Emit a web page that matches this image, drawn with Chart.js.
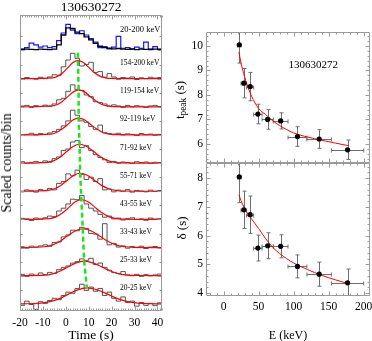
<!DOCTYPE html>
<html>
<head>
<meta charset="utf-8">
<script src="https://cdn.jsdelivr.net/npm/chart.js@4/dist/chart.umd.min.js"></script>
<style>
body { margin: 0; background: #fff; width: 372px; height: 341px; position: relative; overflow: hidden; font-family: "Liberation Serif", serif; }
canvas { position: absolute; }
.t { position: absolute; white-space: nowrap; color: #000; line-height: 1; transform: translate(-50%, -50%); }
.r { transform: translate(-50%, -50%) rotate(-90deg); }
.band { position: absolute; white-space: nowrap; color: #000; line-height: 1; font-size: 7.5px; transform: translateY(-50%); }
sub { font-size: 0.72em; vertical-align: -0.25em; }
</style>
</head>
<body>
<canvas id="lc" width="186" height="341" style="left:0;top:0"></canvas>
<canvas id="tp" width="186" height="164" style="left:186px;top:0"></canvas>
<canvas id="dl" width="186" height="178" style="left:186px;top:163px"></canvas>

<div class="t" style="left:91px;top:7px;font-size:13.5px">130630272</div>
<div class="t r" style="left:7px;top:163px;font-size:14px">Scaled counts/bin</div>
<div class="t" style="left:91px;top:335px;font-size:13.5px">Time (s)</div>
<div class="t r" style="left:181px;top:100px;font-size:13px">t<sub>peak</sub> (s)</div>
<div class="t r" style="left:181px;top:228px;font-size:13px">δ (s)</div>
<div class="t" style="left:288px;top:335px;font-size:12px">E (keV)</div>
<div id="grb" class="t" style="font-size:11px">130630272</div>

<script>
// ---- light curves (left panel) ----
const BANDS = ['20-200 keV', '154-200 keV', '119-154 keV', '92-119 keV', '71-92 keV',
  '55-71 keV', '43-55 keV', '33-43 keV', '25-33 keV', '20-25 keV'];
const OFFSETS = [9.24, 8.24, 7.24, 6.24, 5.24, 4.24, 3.24, 2.24, 1.24, 0.24];
const TIME_EDGES = [-20, -18, -16, -14, -12, -10, -8, -6, -4, -2, 0, 2, 4, 6, 8, 10,
  12, 14, 16, 18, 20, 22, 24, 26, 28, 30, 32, 34, 36, 38, 40, 42, 44];
const TIME_TICKS = [-20, -10, 0, 10, 20, 30, 40];

const LC_ALL_BLUE = [.08, .06, .10, .26, .20, .12, .16, .10, .14, .35, .62, .93, .72, .60, .70, .55,
  .42, .30, .10, .14, .06, .12, .50, .08, .10, .05, .12, .08, .30, .06, .14, .05];
const LC_ALL_BLACK = [.04, .03, .05, .04, .03, .05, .04, .03, .05, .20, .55, .80, .78, .65, .60, .48,
  .38, .25, .15, .10, .08, .06, .07, .05, .04, .06, .03, .05, .04, .03, .05, .04];
const LC_154_200 = [.02, -.03, .04, .01, -.02, .05, .00, .06, .14, .12, .42, .66, .90, .72, .45, .50,
  .58, .22, .25, .05, .18, .06, -.02, .04, .02, .06, -.03, .03, .00, .05, .02, .04];
const LC_119_154 = [.00, .03, .05, -.02, .04, .01, .06, .02, .10, .25, .30, .55, .78, .62, .58, .42,
  .36, .18, .15, .10, .02, .07, .03, -.02, .05, .00, .04, .02, -.02, .03, .05, .01];
const LC_92_119 = [.03, -.01, .02, .06, .00, .05, .02, .07, .12, .20, .32, .50, .88, .70, .50, .45,
  .30, .20, .35, .08, .05, .03, .06, .00, .04, .02, -.02, .05, .01, .03, -.01, .02];
const LC_71_92 = [.02, .05, .00, .03, .06, .02, .08, .04, .16, .22, .45, .50, .75, .80, .55, .62,
  .45, .30, .20, .12, .02, .06, .00, .04, .02, -.01, .05, .02, .04, .00, .03, .02];
const LC_55_71 = [.01, -.02, .05, .02, -.03, .06, .02, .10, .05, .28, .35, .62, .55, .75, .60, .42,
  .50, .35, .45, .05, .08, -.02, .04, .00, .06, -.03, .03, .01, -.02, .04, .00, .03];
const LC_43_55 = [-.02, .04, .02, -.04, .05, .01, .06, .12, .10, .30, .40, .55, .72, .70, .85, .55,
  .40, .30, .18, .08, .12, .02, .05, -.02, .03, .06, .00, .02, -.03, .05, .01, .03];
const LC_33_43 = [.00, .03, -.02, .05, .02, .06, .10, .05, .18, .20, .38, .45, .62, .60, .72, .68,
  .50, .48, .30, .85, .10, .15, .02, .06, -.02, .04, .01, .05, -.03, .02, .04, .00];
const LC_25_33 = [.03, .05, -.02, .06, .02, .10, .04, .12, .08, .22, .30, .35, .45, .50, .60, .55,
  .62, .40, .45, .30, .20, .12, .08, .15, .03, .00, .05, -.02, .04, .00, .03, .06];
const LC_20_25 = [.05, -.05, .10, -.02, -.20, .08, .02, .12, .20, .15, .30, .42, .38, .55, .70, .48,
  .60, .45, .55, .30, .42, .20, .10, .25, .05, .10, -.08, .05, -.05, .02, -.06, .04];

// pulse fits [time, counts above the band baseline]
const FIT_154_200 = [[-5.6, .03], [-3.5, .09], [-1.3, .21], [0.9, .39], [3.1, .57], [5.3, .64],
  [7.7, .57], [10.1, .39], [12.5, .21], [14.9, .09], [17.3, .03], [19.7, .01]];
const FIT_119_154 = [[-6.1, .03], [-3.7, .08], [-1.4, .20], [0.9, .36], [3.3, .53], [5.6, .60],
  [8.2, .53], [10.7, .36], [13.3, .20], [15.8, .08], [18.4, .03], [20.9, .01]];
const FIT_92_119 = [[-6.7, .03], [-4.3, .08], [-1.8, .20], [0.7, .36], [3.1, .53], [5.6, .60],
  [8.3, .53], [11.0, .36], [13.7, .20], [16.4, .08], [19.1, .03], [21.8, .01]];
const FIT_71_92 = [[-8.0, .03], [-5.2, .09], [-2.4, .22], [0.4, .41], [3.2, .59], [6.0, .67],
  [9.1, .59], [12.2, .41], [15.3, .22], [18.4, .09], [21.5, .03], [24.6, .01]];
const FIT_55_71 = [[-7.8, .03], [-5.0, .09], [-2.2, .21], [0.7, .39], [3.5, .57], [6.3, .64],
  [9.4, .57], [12.5, .39], [15.6, .21], [18.7, .09], [21.8, .03], [24.9, .01]];
const FIT_43_55 = [[-7.1, .03], [-4.3, .09], [-1.5, .23], [1.3, .42], [4.0, .62], [6.8, .70],
  [9.9, .62], [12.9, .42], [16.0, .23], [19.0, .09], [22.1, .03], [25.1, .01]];
const FIT_33_43 = [[-9.4, .03], [-6.0, .09], [-2.7, .22], [0.7, .41], [4.1, .59], [7.4, .67],
  [11.1, .59], [14.8, .41], [18.5, .22], [22.2, .09], [25.9, .03], [29.6, .01]];
const FIT_25_33 = [[-9.3, .02], [-5.8, .07], [-2.4, .17], [1.1, .32], [4.5, .46], [8.0, .52],
  [11.8, .46], [15.6, .32], [19.4, .17], [23.2, .07], [27.0, .02], [30.8, .01]];
const FIT_20_25 = [[-10.9, .03], [-6.9, .08], [-2.8, .19], [1.2, .35], [5.2, .50], [9.2, .57],
  [13.7, .50], [18.2, .35], [22.6, .19], [27.1, .08], [31.5, .03], [36.0, .01]];

// peak of each band's pulse, used by the green guide line
const LC_PEAK_T = [5.3, 5.6, 5.6, 6.0, 6.3, 6.8, 7.4, 8.0, 9.2];
const LC_PEAK_C = [.64, .60, .60, .67, .64, .70, .67, .52, .57];

// ---- spectral lag panels (right) ----
const E_MID = [22.5, 29, 38, 49, 63, 81.5, 105.5, 136.5, 177];
const E_LO = [20, 25, 33, 43, 55, 71, 92, 119, 154];
const E_HI = [25, 33, 43, 55, 71, 92, 119, 154, 200];
const TPEAK = [10.05, 8.48, 8.34, 7.22, 7.0, 6.94, 6.3, 6.2, 5.76];
const TPEAK_ERR = [0.75, 0.6, 0.58, 0.4, 0.4, 0.33, 0.4, 0.38, 0.4];
const DELTA = [8.05, 6.9, 6.73, 5.57, 5.65, 5.63, 4.93, 4.66, 4.36];
const DELTA_ERR = [0.9, 0.65, 0.65, 0.45, 0.45, 0.4, 0.4, 0.42, 0.48];
const FIT_E = [22, 25, 30, 35, 40, 50, 60, 70, 80, 100, 120, 140, 160, 178];
const FIT_TPEAK = [9.75, 9.3, 8.75, 8.3, 7.95, 7.45, 7.2, 6.95, 6.75, 6.45, 6.28, 6.15, 6.03, 5.93];
const FIT_DELTA = [7.42, 7.22, 6.95, 6.75, 6.58, 6.25, 5.9, 5.6, 5.38, 5.05, 4.82, 4.62, 4.46, 4.33];
const E_TICKS = [0, 50, 100, 150, 200];
const TPEAK_TICKS = [6, 7, 8, 9, 10];
const DELTA_TICKS = [4, 5, 6, 7, 8];

Chart.defaults.font.family = '"Liberation Serif", serif';
Chart.defaults.color = '#000';

const BAND_LC = [LC_154_200, LC_119_154, LC_92_119, LC_71_92, LC_55_71, LC_43_55, LC_33_43, LC_25_33, LC_20_25];
const BAND_FIT = [FIT_154_200, FIT_119_154, FIT_92_119, FIT_71_92, FIT_55_71, FIT_43_55, FIT_33_43, FIT_25_33, FIT_20_25];

const steps = (vals, off) => {
  const pts = vals.map((v, i) => ({x: TIME_EDGES[i], y: v + off}));
  pts.push({x: TIME_EDGES[vals.length], y: vals[vals.length - 1] + off});
  return pts;
};

// frame + inward ticks, placed with the chart's own scales
const framePlugin = {
  id: 'frame',
  afterDatasetsDraw(chart, args, o) {
    const {ctx, chartArea: a} = chart;
    const {x, y} = chart.scales;
    ctx.save();
    ctx.strokeStyle = '#9a9a9a';
    ctx.lineWidth = 1;
    ctx.beginPath();
    const L = Math.round(a.left) + .5, R = Math.round(a.right) - .5;
    const T = Math.round(a.top) + .5, B = Math.round(a.bottom) - .5;
    ctx.rect(L, T, R - L, B - T);
    const isMajor = (v, m) => Math.abs(v / m - Math.round(v / m)) < 1e-6;
    for (let n = Math.ceil(x.min / o.xStep); n * o.xStep <= x.max + 1e-9; n++) {
      const v = n * o.xStep, px = Math.round(x.getPixelForValue(v)) + .5;
      const len = isMajor(v, o.xMajor) ? 4 : 2;
      ctx.moveTo(px, B); ctx.lineTo(px, B - len);
      ctx.moveTo(px, T); ctx.lineTo(px, T + len);
    }
    const yt = (o.yList || []).slice();
    if (o.yStep) {
      for (let n = Math.ceil(y.min / o.yStep - 1e-9); n * o.yStep <= y.max + 1e-9; n++) {
        const v = n * o.yStep;
        yt.push([v, isMajor(v, o.yMajor) ? 4 : 2]);
      }
    }
    yt.forEach(([v, len]) => {
      const py = Math.round(y.getPixelForValue(v)) + .5;
      ctx.moveTo(L, py); ctx.lineTo(L + len, py);
      ctx.moveTo(R, py); ctx.lineTo(R - len, py);
    });
    ctx.stroke();
    ctx.restore();
  }
};

// error bars from the data arrays, through the scales
const errPlugin = {
  id: 'errbars',
  beforeDatasetsDraw(chart, args, o) {
    if (!o.y) return;
    const {ctx, chartArea: a} = chart;
    const {x, y} = chart.scales;
    ctx.save();
    ctx.beginPath();
    ctx.rect(a.left, a.top, a.right - a.left, a.bottom - a.top);
    ctx.clip();
    ctx.strokeStyle = '#6e6e6e';
    ctx.lineWidth = 1;
    ctx.beginPath();
    o.y.forEach((v, i) => {
      const px = Math.round(x.getPixelForValue(o.x[i])) + .5;
      const py = Math.round(y.getPixelForValue(v)) + .5;
      const x0 = x.getPixelForValue(o.lo[i]), x1 = x.getPixelForValue(o.hi[i]);
      const y0 = y.getPixelForValue(v - o.err[i]), y1 = y.getPixelForValue(v + o.err[i]);
      ctx.moveTo(x0, py); ctx.lineTo(x1, py);
      ctx.moveTo(x0, py - 2); ctx.lineTo(x0, py + 2);
      ctx.moveTo(x1, py - 2); ctx.lineTo(x1, py + 2);
      ctx.moveTo(px, y0); ctx.lineTo(px, y1);
      ctx.moveTo(px - 2, y0); ctx.lineTo(px + 2, y0);
      ctx.moveTo(px - 2, y1); ctx.lineTo(px + 2, y1);
    });
    ctx.stroke();
    ctx.restore();
  }
};

const noPad = s => { s.paddingTop = 0; s.paddingBottom = 0; s.paddingLeft = 0; s.paddingRight = 0; };

// ---- left chart ----
const leftSets = [];
leftSets.push({data: steps(LC_ALL_BLUE, OFFSETS[0]), borderColor: '#1414ff', borderWidth: 1.2, stepped: 'after', order: 3});
leftSets.push({data: steps(LC_ALL_BLACK, OFFSETS[0]), borderColor: '#000', borderWidth: 1.3, stepped: 'after', order: 2});
BAND_LC.forEach((vals, i) => {
  const off = OFFSETS[i + 1];
  leftSets.push({data: steps(vals, off), borderColor: '#555', borderWidth: 1, stepped: 'after', order: 3});
  const fit = [{x: -20, y: off}].concat(BAND_FIT[i].map(p => ({x: p[0], y: p[1] + off})), [{x: 44, y: off}]);
  leftSets.push({data: fit, borderColor: '#ff0000', borderWidth: 1.2, cubicInterpolationMode: 'monotone', order: 1});
});
const green = LC_PEAK_T.map((t, i) => ({x: t, y: OFFSETS[i + 1] + LC_PEAK_C[i]}));
green.unshift({x: LC_PEAK_T[0], y: OFFSETS[1] + 0.92});
leftSets.push({data: green, borderColor: '#22e022', borderWidth: 2.5, borderDash: [5, 3], order: 0});

const lc = new Chart(document.getElementById('lc'), {
  type: 'line',
  data: {datasets: leftSets},
  plugins: [framePlugin],
  options: {
    responsive: false, animation: false, parsing: false,
    layout: {padding: {left: 20, top: 15, right: 24, bottom: 10.3}},
    elements: {point: {radius: 0}, line: {fill: false}},
    plugins: {
      legend: {display: false}, tooltip: {enabled: false},
      frame: {xStep: 1, xMajor: 10, yList: OFFSETS.flatMap(v => [[v, 4], [v + 0.5, 2]])}
    },
    scales: {
      x: {
        type: 'linear', min: -20, max: 42,
        afterBuildTicks: s => { s.ticks = TIME_TICKS.map(v => ({value: v})); },
        afterFit: s => { noPad(s); s.height = 20; },
        grid: {display: false, drawTicks: false}, border: {display: false},
        ticks: {padding: 5, maxRotation: 0, autoSkip: false, font: {size: 11.5}}
      },
      y: {min: 0, max: 10.5, display: false}
    }
  }
});

// band labels, placed from the left chart's y scale
BANDS.forEach((b, i) => {
  const d = document.createElement('div');
  d.className = 'band';
  d.textContent = b;
  const py = lc.scales.y.getPixelForValue(OFFSETS[i] + (i === 0 ? 0.75 : 0.55));
  d.style.left = '120px';
  d.style.top = py + 'px';
  if (i === 0) d.style.fontSize = '8.5px';
  document.body.appendChild(d);
});

// ---- right charts ----
const rightOpts = (yMin, yMax, yTicks, showX, err) => ({
  responsive: false, animation: false, parsing: false,
  layout: {autoPadding: false, padding: showX ? {left: 0, top: 0, right: 2, bottom: 25} : {left: 0, top: 32, right: 2, bottom: 1}},
  elements: {point: {radius: 0}, line: {fill: false}},
  plugins: {
    legend: {display: false}, tooltip: {enabled: false},
    frame: {xStep: 10, xMajor: 50, yStep: 0.2, yMajor: 1},
    errbars: err
  },
  scales: {
    x: {
      type: 'linear', min: -25, max: 209, display: showX,
      afterBuildTicks: s => { s.ticks = E_TICKS.map(v => ({value: v})); },
      afterFit: s => { noPad(s); s.height = showX ? 20 : 0; },
      grid: {display: false, drawTicks: false}, border: {display: false},
      ticks: {padding: 4, maxRotation: 0, autoSkip: false, font: {size: 11.5}}
    },
    y: {
      min: yMin, max: yMax,
      afterBuildTicks: s => { s.ticks = yTicks.map(v => ({value: v})); },
      afterFit: s => { noPad(s); s.width = 20; },
      grid: {display: false, drawTicks: false}, border: {display: false},
      ticks: {padding: 3, autoSkip: false, font: {size: 11.5}}
    }
  }
});

const pointsSet = vals => ({
  data: E_MID.map((e, i) => ({x: e, y: vals[i]})), showLine: false,
  pointRadius: 2.6, pointBackgroundColor: '#000', pointBorderColor: '#000', pointBorderWidth: 0, order: 0
});
const fitSet = vals => ({
  data: FIT_E.map((e, i) => ({x: e, y: vals[i]})), borderColor: '#ff0000', borderWidth: 1,
  cubicInterpolationMode: 'monotone', order: 1
});

const tp = new Chart(document.getElementById('tp'), {
  type: 'line',
  data: {datasets: [pointsSet(TPEAK), fitSet(FIT_TPEAK)]},
  plugins: [framePlugin, errPlugin],
  options: rightOpts(5.22, 10.57, TPEAK_TICKS, false, {x: E_MID, lo: E_LO, hi: E_HI, y: TPEAK, err: TPEAK_ERR})
});

new Chart(document.getElementById('dl'), {
  type: 'line',
  data: {datasets: [pointsSet(DELTA), fitSet(FIT_DELTA)]},
  plugins: [framePlugin, errPlugin],
  options: rightOpts(3.9, 8.53, DELTA_TICKS, true, {x: E_MID, lo: E_LO, hi: E_HI, y: DELTA, err: DELTA_ERR})
});

// burst name inside the top-right panel
const grb = document.getElementById('grb');
grb.style.left = (186 + tp.scales.x.getPixelForValue(128)) + 'px';
grb.style.top = tp.scales.y.getPixelForValue(9.25) + 'px';
</script>
</body>
</html>
